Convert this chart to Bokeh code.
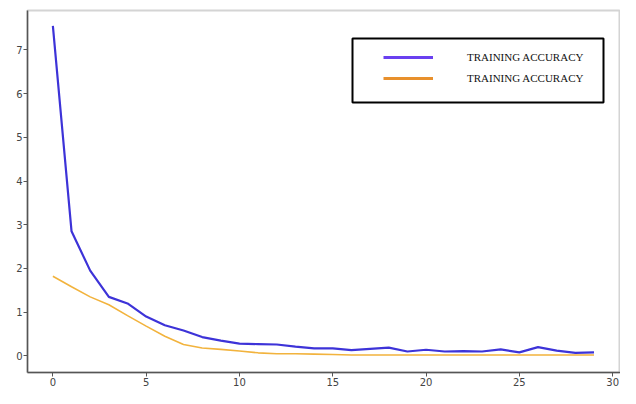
from bokeh.plotting import figure
from bokeh.models import Range1d, Legend, LegendItem, FixedTicker, BoxAnnotation
from bokeh.embed import file_html
from bokeh.resources import INLINE

epochs = list(range(30))
blue_values = [7.55, 2.85, 1.95, 1.35, 1.2, 0.9, 0.7, 0.58, 0.43, 0.35,
               0.28, 0.27, 0.26, 0.21, 0.17, 0.17, 0.13, 0.16, 0.19, 0.1,
               0.14, 0.1, 0.11, 0.1, 0.15, 0.08, 0.2, 0.12, 0.07, 0.08]
orange_values = [1.82, 1.58, 1.35, 1.17, 0.92, 0.68, 0.45, 0.26, 0.18, 0.15,
                 0.11, 0.07, 0.05, 0.05, 0.04, 0.03, 0.02, 0.02, 0.02, 0.02,
                 0.02, 0.02, 0.02, 0.02, 0.02, 0.02, 0.02, 0.02, 0.02, 0.02]
legend_labels = ["TRAINING ACCURACY", "TRAINING ACCURACY"]
x_ticks = [0, 5, 10, 15, 20, 25, 30]
y_ticks = [0, 1, 2, 3, 4, 5, 6, 7]

p = figure(width=620, height=388, output_backend="svg", toolbar_location=None,
           x_range=Range1d(-1.36, 30.42), y_range=Range1d(-0.38, 7.9),
           min_border_left=27, min_border_right=0, min_border_top=10, min_border_bottom=0)
p.background_fill_color = "white"
p.border_fill_color = "white"
p.outline_line_color = "#d4d4d4"
p.outline_line_width = 2
p.grid.visible = False

r1 = p.line(epochs, blue_values, line_color="#3d33d8", line_width=2.2)
r2 = p.line(epochs, orange_values, line_color="#f2b33d", line_width=1.6)
# legend swatches (hidden copies in legend colours)
l1 = p.line(epochs, blue_values, line_color="#6a40f0", line_width=3, visible=False)
l2 = p.line(epochs, orange_values, line_color="#e8902c", line_width=3, visible=False)

for ax in (p.xaxis[0], p.yaxis[0]):
    ax.axis_line_color = "#555555"
    ax.axis_line_width = 1.5
    ax.major_tick_line_color = "#555555"
    ax.major_tick_out = 4
    ax.major_tick_in = 0
    ax.minor_tick_line_color = None
    ax.major_label_text_font = "DejaVu Sans"
    ax.major_label_text_font_size = "10px"
    ax.major_label_text_color = "#444444"
    ax.major_label_standoff = 1
p.xaxis.ticker = FixedTicker(ticks=x_ticks)
p.yaxis.ticker = FixedTicker(ticks=y_ticks)

frame_box = BoxAnnotation(left=325, right=576, top=334, bottom=270,
                          left_units="screen", right_units="screen",
                          top_units="screen", bottom_units="screen",
                          fill_color=None, fill_alpha=0,
                          line_color="black", line_alpha=1, line_width=2)
p.add_layout(frame_box)

legend = Legend(items=[LegendItem(label=legend_labels[0], renderers=[l1]),
                       LegendItem(label=legend_labels[1], renderers=[l2])],
                location=(356, 284))
legend.border_line_color = None
legend.background_fill_alpha = 0
legend.inactive_fill_alpha = 0
legend.label_text_font = "Liberation Serif"
legend.label_text_font_size = "11px"
legend.label_text_color = "#111111"
legend.glyph_width = 50
legend.label_standoff = 34
legend.padding = 10
legend.margin = 0
legend.spacing = 1
legend.label_height = 20
legend.glyph_height = 20
p.add_layout(legend, "center")

open("out.html", "w").write(file_html(p, INLINE))
